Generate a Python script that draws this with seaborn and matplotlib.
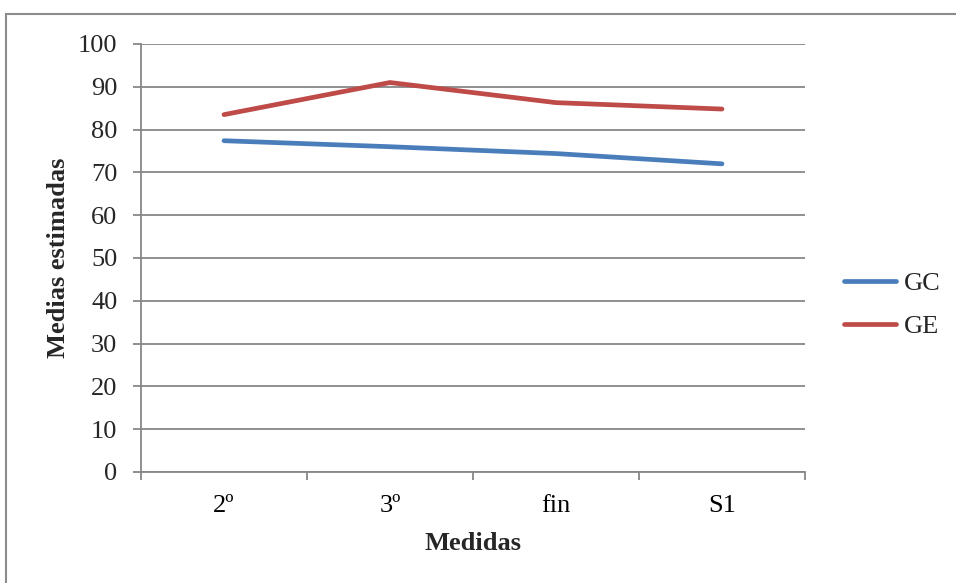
import matplotlib
matplotlib.use("Agg")
import matplotlib.pyplot as plt
from matplotlib.patches import Rectangle
from matplotlib.lines import Line2D
from matplotlib.ticker import FixedLocator
import seaborn as sns
import pandas as pd

# Estimated marginal means per measurement and group
medidas = ["2º", "3º", "fin", "S1"]
gc_vals = [77.4, 76.0, 74.4, 72.0]
ge_vals = [83.5, 91.0, 86.3, 84.8]
grupos = ["GC", "GE"]
y_ticks = [0, 10, 20, 30, 40, 50, 60, 70, 80, 90, 100]

df = pd.DataFrame({
    "Medidas": medidas * 2,
    "valor": gc_vals + ge_vals,
    "grupo": [grupos[0]] * len(medidas) + [grupos[1]] * len(medidas),
})

sns.set_theme(style="white")
plt.rcParams["font.family"] = ["Liberation Serif", "DejaVu Serif"]

FS = 19
LW = 3.4
grid_col = "#878787"
colors = {"GC": "#4A7EBB", "GE": "#BE4B48"}

fig = plt.figure(figsize=(9.56, 5.83), dpi=100)
ax = fig.add_axes([141 / 956, 1 - 472 / 583, 664 / 956, 428 / 583])

sns.lineplot(data=df, x="Medidas", y="valor", hue="grupo", palette=colors,
             linewidth=LW, sort=False, ax=ax, legend=False,
             solid_capstyle="round", solid_joinstyle="round")

ax.set_xlim(-0.5, len(medidas) - 0.5)
ax.set_ylim(0, 100)
ax.set_yticks(y_ticks)
ax.set_yticklabels([str(v) for v in y_ticks], fontsize=FS)
ax.set_xticks(range(len(medidas)))
ax.set_xticklabels(medidas, fontsize=FS)
ax.xaxis.set_minor_locator(FixedLocator([i - 0.5 for i in range(len(medidas) + 1)]))
ax.tick_params(axis="x", which="major", length=0, pad=16.5, colors="black")
ax.tick_params(axis="x", which="minor", bottom=True, length=6, width=1.3,
               color=grid_col, direction="out")
ax.tick_params(axis="y", which="major", left=True, length=6, width=1.3,
               color=grid_col, direction="out", pad=11)

ax.grid(axis="y", color=grid_col, linewidth=1.3)
ax.grid(axis="x", visible=False)
ax.set_axisbelow(True)
for s in ["top", "right"]:
    ax.spines[s].set_visible(False)
for s in ["left", "bottom"]:
    ax.spines[s].set_color(grid_col)
    ax.spines[s].set_linewidth(1.3)

ax.set_xlabel("Medidas", fontsize=FS, fontweight="bold", labelpad=11)
ax.set_ylabel("Medias estimadas", fontsize=FS, fontweight="bold", labelpad=6)

# Legend on the right
handles = [Line2D([0], [0], color=colors[g], lw=LW, solid_capstyle="round") for g in grupos]
fig.legend(handles, grupos, loc="center left", bbox_to_anchor=(833 / 956, 1 - 305 / 583),
           frameon=False, fontsize=FS, handlelength=2.0, handletextpad=0.3,
           labelspacing=0.75, borderaxespad=0)

# Chart area border
fig.patches.append(Rectangle((6 / 956, -0.1), 1.2, 1 - 14 / 583 + 0.1,
                             transform=fig.transFigure, fill=False,
                             edgecolor="#8c8c8c", linewidth=1.5, zorder=-1))

fig.savefig("out.png", dpi=100)
